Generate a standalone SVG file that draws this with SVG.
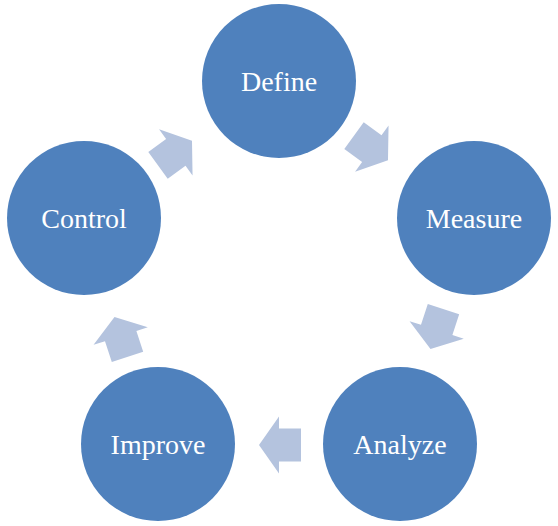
<svg xmlns="http://www.w3.org/2000/svg" width="558" height="526" viewBox="0 0 558 526">
<style>
.node{fill:#4f81bd}
.lbl{fill:#ffffff;font-family:"Liberation Serif","Times New Roman",serif;font-size:28px;text-anchor:middle}
.arr{fill:#b4c3de}
</style>
<defs>
<path id="blk" d="M-21,-16.5 L1,-16.5 L1,-28.5 L21,0 L1,28.5 L1,16.5 L-21,16.5 Z"/>
</defs>
<rect width="558" height="526" fill="#ffffff"/>
<g id="connectors">
<use href="#blk" class="arr" transform="translate(371,148) rotate(36)"/>
<use href="#blk" class="arr" transform="translate(437,329) rotate(108)"/>
<use href="#blk" class="arr" transform="translate(280,445) rotate(180)"/>
<use href="#blk" class="arr" transform="translate(121,337) rotate(-108)"/>
<use href="#blk" class="arr" transform="translate(175,153) rotate(-36)"/>
</g>
<g id="define"><circle class="node" cx="279" cy="81" r="77"/><text class="lbl" x="279" y="91">Define</text></g>
<g id="measure"><circle class="node" cx="474" cy="218" r="77"/><text class="lbl" x="474" y="228">Measure</text></g>
<g id="analyze"><circle class="node" cx="400" cy="444" r="77"/><text class="lbl" x="400" y="454">Analyze</text></g>
<g id="improve"><circle class="node" cx="158" cy="444" r="77"/><text class="lbl" x="158" y="454">Improve</text></g>
<g id="control"><circle class="node" cx="84" cy="218" r="77"/><text class="lbl" x="84" y="228">Control</text></g>
</svg>
